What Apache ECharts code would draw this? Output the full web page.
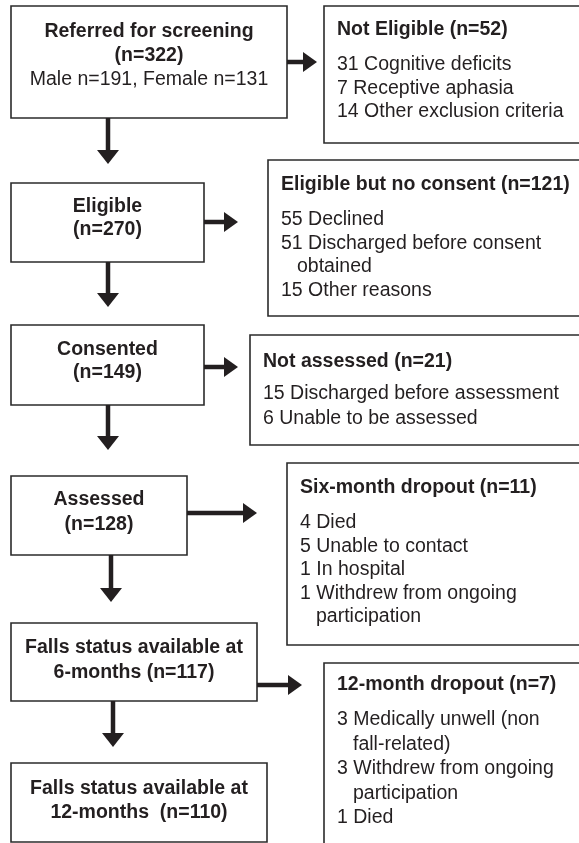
<!DOCTYPE html>
<html>
<head>
<meta charset="utf-8">
<script src="https://cdn.jsdelivr.net/npm/echarts@6/dist/echarts.min.js"></script>
<style>
html,body{margin:0;padding:0;background:#fff;}
#chart{width:579px;height:843px;}
</style>
</head>
<body>
<div id="chart"></div>
<script>
// ---- content (data) ----
const stageLabels = [
  ['Referred for screening'],
  ['Eligible'],
  ['Consented'],
  ['Assessed'],
  ['Falls status available at', '6-months'],
  ['Falls status available at', '12-months ']
];
const stageN = [322, 270, 149, 128, 117, 110];
const sexLabels = ['Male', 'Female'];
const sexN = [191, 131];

const exclTitles = ['Not Eligible', 'Eligible but no consent', 'Not assessed', 'Six-month dropout', '12-month dropout'];
const exclN = [52, 121, 21, 11, 7];
const exclReasonN = [
  [31, 7, 14],
  [55, 51, 15],
  [15, 6],
  [4, 5, 1, 1],
  [3, 3, 1]
];
const exclReasonText = [
  [['Cognitive deficits'], ['Receptive aphasia'], ['Other exclusion criteria']],
  [['Declined'], ['Discharged before consent', 'obtained'], ['Other reasons']],
  [['Discharged before assessment'], ['Unable to be assessed']],
  [['Died'], ['Unable to contact'], ['In hospital'], ['Withdrew from ongoing', 'participation']],
  [['Medically unwell (non', 'fall-related)'], ['Withdrew from ongoing', 'participation'], ['Died']]
];

// ---- layout (positions / styles) ----
const FONT = '"Liberation Sans", Arial, Helvetica, sans-serif';
const FS = 19.5;
const INK = '#231f20';
const mainBox = [
  {r: [11, 6, 287, 118], ys: [32, 56, 80]},
  {r: [11, 183, 204, 262], ys: [207, 230]},
  {r: [11, 325, 204, 405], ys: [350, 373]},
  {r: [11, 476, 187, 555], ys: [500, 525]},
  {r: [11, 623, 257, 701], ys: [648, 673]},
  {r: [11, 763, 267, 842], ys: [789, 813]}
];
const sideBox = [
  {r: [324, 6, 600, 143], hy: 30, gap: 35, sp: 23.5},
  {r: [268, 160, 600, 316], hy: 185, gap: 35, sp: 23.5},
  {r: [250, 335, 600, 445], hy: 362, gap: 31.5, sp: 25},
  {r: [287, 463, 600, 645], hy: 488, gap: 35, sp: 23.5},
  {r: [324, 663, 600, 870], hy: 685, gap: 35, sp: 24.5}
];
const PAD = 13, INDENT = 16;
const arrows = [
  [108, 118, 108, 164],
  [287, 62, 317, 62],
  [108, 262, 108, 307],
  [204, 222, 238, 222],
  [204, 367, 238, 367],
  [108, 405, 108, 450],
  [187, 513, 257, 513],
  [111, 555, 111, 602],
  [257, 685, 302, 685],
  [113, 701, 113, 747]
];

const g = [];
function rect(r) {
  g.push({type: 'rect', shape: {x: r[0], y: r[1], width: r[2] - r[0], height: r[3] - r[1]},
    style: {fill: '#fff', stroke: '#2b2b2b', lineWidth: 1.6}});
}
function text(s, x, y, bold, align) {
  g.push({type: 'text', x: x, y: y, style: {text: s, font: (bold ? 'bold ' : '') + FS + 'px ' + FONT,
    fill: INK, textAlign: align || 'left', textVerticalAlign: 'middle'}});
}

mainBox.forEach((b, i) => {
  rect(b.r);
  const cx = (b.r[0] + b.r[2]) / 2;
  const lines = stageLabels[i].slice();
  if (lines.length > 1) lines[lines.length - 1] += ' (n=' + stageN[i] + ')';
  else lines.push('(n=' + stageN[i] + ')');
  lines.forEach((l, k) => text(l, cx, b.ys[k], true, 'center'));
  if (i === 0) {
    const s = sexLabels.map((l, k) => l + ' n=' + sexN[k]).join(', ');
    text(s, cx, b.ys[lines.length], false, 'center');
  }
});

sideBox.forEach((b, i) => {
  rect(b.r);
  const x = b.r[0] + PAD;
  text(exclTitles[i] + ' (n=' + exclN[i] + ')', x, b.hy, true);
  let y = b.hy + b.gap;
  exclReasonText[i].forEach((parts, k) => {
    parts.forEach((p, j) => {
      if (j === 0) text(exclReasonN[i][k] + ' ' + p, x, y, false);
      else text(p, x + INDENT, y, false);
      y += b.sp;
    });
  });
});

arrows.forEach(a => {
  const L = 14, W = 11;
  const vertical = a[0] === a[2];
  let shaftEnd, head;
  if (vertical) {
    shaftEnd = [a[2], a[3] - L + 1];
    head = [[a[2] - W, a[3] - L], [a[2] + W, a[3] - L], [a[2], a[3]]];
  } else {
    shaftEnd = [a[2] - L + 1, a[3]];
    head = [[a[2] - L, a[3] - W + 1], [a[2] - L, a[3] + W - 1], [a[2], a[3]]];
  }
  g.push({type: 'line', shape: {x1: a[0], y1: a[1], x2: shaftEnd[0], y2: shaftEnd[1]},
    style: {stroke: INK, lineWidth: 4.5}});
  g.push({type: 'polygon', shape: {points: head}, style: {fill: INK}});
});

const chart = echarts.init(document.getElementById('chart'), null, {renderer: 'canvas'});
chart.setOption({backgroundColor: '#fff', animation: false, graphic: {elements: g}});
</script>
</body>
</html>
